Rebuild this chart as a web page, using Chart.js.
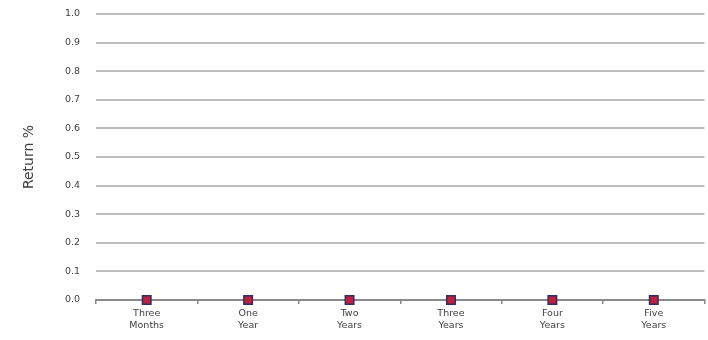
<!DOCTYPE html>
<html>
<head>
<meta charset="utf-8">
<script src="https://cdn.jsdelivr.net/npm/chart.js@4/dist/chart.umd.min.js"></script>
<style>
  html, body { margin: 0; padding: 0; background: #fff; overflow: hidden; }
  #wrap { width: 712px; height: 340px; }
</style>
</head>
<body>
<div id="wrap"><canvas id="returnChart" width="712" height="340"></canvas></div>
<script>
// chart data
const categories = [['Three', 'Months'], ['One', 'Year'], ['Two', 'Years'], ['Three', 'Years'], ['Four', 'Years'], ['Five', 'Years']];
const returnValues = [0, 0, 0, 0, 0, 0];
const yMin = 0;
const yMax = 1.0;
const yStep = 0.1;

const ctx = document.getElementById('returnChart').getContext('2d');
new Chart(ctx, {
  type: 'line',
  data: {
    labels: categories,
    datasets: [{
      label: 'Return',
      data: returnValues,
      showLine: false,
      clip: false,
      pointStyle: 'rect',
      pointRadius: 6,
      pointBackgroundColor: '#c0203a',
      pointBorderColor: '#2b2f6b',
      pointBorderWidth: 1.5
    }]
  },
  options: {
    responsive: false,
    animation: false,
    layout: { padding: { top: 14, right: 0, left: 0, bottom: 0 } },
    plugins: { legend: { display: false }, tooltip: { enabled: false } },
    scales: {
      x: {
        offset: true,
        grid: { display: true, drawOnChartArea: false, offset: true, tickLength: 4, color: '#888', lineWidth: 1.5 },
        border: { display: true, color: '#8a8a8a', width: 2 },
        ticks: { color: '#404040', font: { family: 'DejaVu Sans', size: 9.5 }, maxRotation: 0, padding: 4 },
        afterFit: (s) => { s.height = 40; s.paddingLeft = 0; s.paddingRight = 0; }
      },
      y: {
        min: yMin,
        max: yMax,
        grid: { color: '#bdbdbd', lineWidth: 2, drawTicks: false },
        border: { display: false },
        ticks: {
          stepSize: yStep,
          padding: 16,
          color: '#404040',
          font: { family: 'DejaVu Sans', size: 9.5 },
          callback: (v) => v.toFixed(1)
        },
        title: { display: true, text: 'Return %', color: '#404040', font: { family: 'DejaVu Sans', size: 14 }, padding: { top: 21, bottom: 0 } },
        afterFit: (s) => { s.width = 96; s.paddingTop = 0; s.paddingBottom = 0; }
      }
    }
  }
});
</script>
</body>
</html>
